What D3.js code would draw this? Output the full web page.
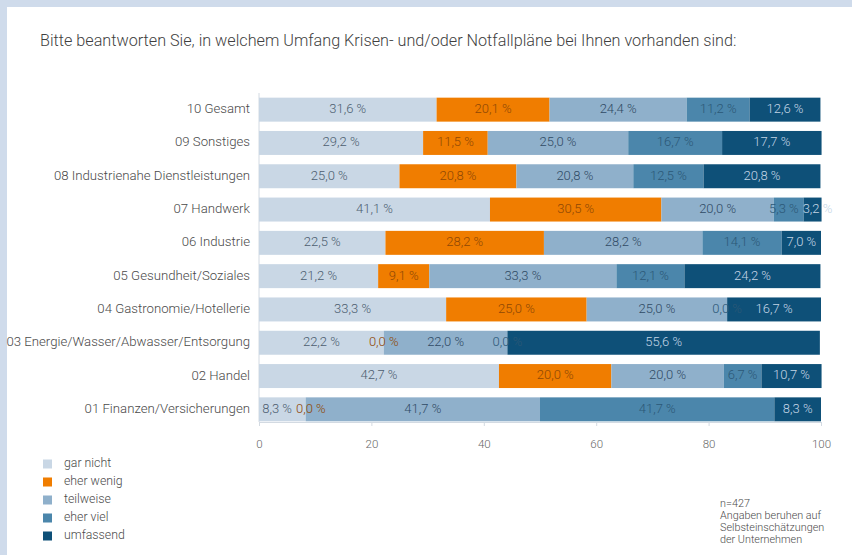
<!DOCTYPE html>
<html lang="de">
<head>
<meta charset="utf-8">
<script src="https://cdn.jsdelivr.net/npm/d3@7"></script>
<style>
  html, body { margin: 0; padding: 0; background: #ffffff; }
  svg { display: block; font-family: Roboto, "Open Sans", sans-serif; }
</style>
</head>
<body>
<svg id="chart" width="852" height="555"></svg>
<script>
// Sectors, top row first
const categories = [
  "10 Gesamt",
  "09 Sonstiges",
  "08 Industrienahe Dienstleistungen",
  "07 Handwerk",
  "06 Industrie",
  "05 Gesundheit/Soziales",
  "04 Gastronomie/Hotellerie",
  "03 Energie/Wasser/Abwasser/Entsorgung",
  "02 Handel",
  "01 Finanzen/Versicherungen"
];

// Answer levels, stacked left to right
const seriesNames = ["gar nicht", "eher wenig", "teilweise", "eher viel", "umfassend"];

// Share of answers per sector (%), one array per answer level
const garNicht   = [31.6, 29.2, 25.0, 41.1, 22.5, 21.2, 33.3, 22.2, 42.7, 8.3];
const eherWenig  = [20.1, 11.5, 20.8, 30.5, 28.2,  9.1, 25.0,  0.0, 20.0, 0.0];
const teilweise  = [24.4, 25.0, 20.8, 20.0, 28.2, 33.3, 25.0, 22.0, 20.0, 41.7];
const eherViel   = [11.2, 16.7, 12.5,  5.3, 14.1, 12.1,  0.0,  0.0,  6.7, 41.7];
const umfassend  = [12.6, 17.7, 20.8,  3.2,  7.0, 24.2, 16.7, 55.6, 10.7, 8.3];

const seriesValues = [garNicht, eherWenig, teilweise, eherViel, umfassend];

const xTicks = [0, 20, 40, 60, 80, 100];

const title = "Bitte beantworten Sie, in welchem Umfang Krisen- und/oder Notfallpläne bei Ihnen vorhanden sind:";
const noteLines = ["n=427", "Angaben beruhen auf", "Selbsteinschätzungen", "der Unternehmen"];

// Styling
const fills = ["#c9d7e5", "#f07d00", "#8fb0cb", "#4b86ab", "#0e5078"];
const labelFills = ["#4d5e70", "#8f4805", "#2f4b65", "#2c5877", "#c3d5e6"];

const svg = d3.select("#chart");

// Light frame on top and left edge
svg.append("rect").attr("x", 0).attr("y", 0).attr("width", 852).attr("height", 7).attr("fill", "#cfdbeb");
svg.append("rect").attr("x", 0).attr("y", 0).attr("width", 7).attr("height", 555).attr("fill", "#cfdbeb");

// Title
svg.append("text")
  .attr("x", 40).attr("y", 42)
  .attr("dominant-baseline", "middle")
  .attr("font-size", 16.2)
  .attr("font-weight", 300)
  .attr("fill", "#3f3f3f")
  .text(title);

const x = d3.scaleLinear().domain([0, 100]).range([259, 821]);
const y = d3.scaleBand().domain(categories).range([93, 426]).paddingInner(0.28).paddingOuter(0.14);

// Stack rows
const rows = categories.map((c, i) => {
  const r = { category: c };
  seriesNames.forEach((s, k) => { r[s] = seriesValues[k][i]; });
  return r;
});
const stacked = d3.stack().keys(seriesNames)(rows);

// Axis lines
const axisColor = "#d3dae2";
svg.append("line")
  .attr("x1", x(0)).attr("x2", x(0))
  .attr("y1", 93).attr("y2", 422)
  .attr("stroke", axisColor).attr("stroke-width", 1);

const xAxis = d3.axisBottom(x).tickValues(xTicks).tickSize(4).tickPadding(14).tickFormat(d3.format("d"));
const gx = svg.append("g").attr("transform", "translate(0,422)").call(xAxis);
gx.select(".domain").attr("stroke", axisColor);
gx.selectAll(".tick line").attr("stroke", axisColor);
gx.selectAll(".tick text")
  .attr("font-size", 11.5).attr("font-weight", 300)
  .attr("fill", "#666").attr("font-family", "Roboto, sans-serif");

// Category labels
svg.append("g").selectAll("text")
  .data(categories).join("text")
  .attr("x", 250)
  .attr("y", d => y(d) + y.bandwidth() / 2)
  .attr("text-anchor", "end")
  .attr("dominant-baseline", "middle")
  .attr("font-size", 13.2)
  .attr("font-weight", 300)
  .attr("fill", "#4a4a4a")
  .text(d => d);

// Bars
const layers = svg.append("g").selectAll("g")
  .data(stacked).join("g")
  .attr("fill", (d, k) => fills[k]);

layers.selectAll("rect")
  .data(d => d.map(v => ({ v, key: d.key })))
  .join("rect")
  .attr("x", d => x(d.v[0]))
  .attr("y", d => y(d.v.data.category))
  .attr("width", d => Math.max(0, x(d.v[1]) - x(d.v[0])))
  .attr("height", y.bandwidth());

// Value labels, centred in each segment
const fmt = v => v.toFixed(1).replace(".", ",") + " %";
const labelData = [];
stacked.forEach((layer, k) => {
  layer.forEach((v, i) => {
    labelData.push({ k, i, val: seriesValues[k][i], cx: x((v[0] + v[1]) / 2), cat: categories[i] });
  });
});

const labels = svg.append("g").selectAll("text")
  .data(labelData).join("text")
  .attr("x", d => d.cx)
  .attr("y", d => y(d.cat) + y.bandwidth() / 2)
  .attr("text-anchor", "middle")
  .attr("dominant-baseline", "middle")
  .attr("font-size", 13)
  .attr("font-weight", 300)
  .attr("fill", d => labelFills[d.k])
  .text(d => fmt(d.val));

// Push apart labels that would overlap within a row
labels.each(function (d) { d.w = this.getComputedTextLength(); });
const gap = 4;
categories.forEach((c, i) => {
  const row = labelData.filter(d => d.i === i).sort((a, b) => a.k - b.k);
  for (let pass = 0; pass < 4; pass++) {
    for (let j = 1; j < row.length; j++) {
      const a = row[j - 1], b = row[j];
      const overlap = (a.cx + a.w / 2 + gap) - (b.cx - b.w / 2);
      if (overlap > 0) { a.cx -= overlap / 2; b.cx += overlap / 2; }
    }
  }
});
labels.attr("x", d => d.cx);

// Legend
const legend = svg.append("g").selectAll("g")
  .data(seriesNames).join("g")
  .attr("transform", (d, k) => `translate(43, ${464 + k * 18})`);
legend.append("rect")
  .attr("x", 0).attr("y", -4.5).attr("width", 9).attr("height", 9)
  .attr("fill", (d, k) => fills[k]);
legend.append("text")
  .attr("x", 21).attr("y", 0)
  .attr("dominant-baseline", "middle")
  .attr("font-size", 12.3)
  .attr("font-weight", 300)
  .attr("fill", "#4a4a4a")
  .text(d => d);

// Note
svg.append("g").selectAll("text")
  .data(noteLines).join("text")
  .attr("x", 720)
  .attr("y", (d, j) => 504 + j * 12.2)
  .attr("dominant-baseline", "middle")
  .attr("font-size", 10.8)
  .attr("font-weight", 300)
  .attr("fill", "#4a4a4a")
  .text(d => d);
</script>
</body>
</html>
